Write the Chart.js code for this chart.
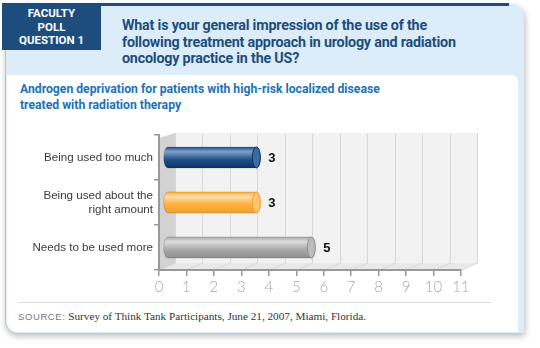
<!DOCTYPE html>
<html lang="en">
<head>
<meta charset="UTF-8">
<script src="https://cdn.jsdelivr.net/npm/chart.js"></script>
<title>Faculty Poll Question 1</title>
<style>
  body { margin: 0; width: 540px; height: 348px; background: #fff; position: relative; overflow: hidden; font-family: "Liberation Sans", Arial, sans-serif; }
  .card { position: absolute; left: 5px; top: 4px; width: 518px; height: 329px; background: #dcedf9; border-radius: 0 12px 0 12px; box-shadow: 1px 3px 6px rgba(0,0,0,0.28); border-left: 1px solid #b9c2c8; }
  .topline { position: absolute; left: 2px; top: 3px; width: 507px; height: 3px; background: #1d4d7c; }
  .tab { position: absolute; left: 2px; top: 3px; width: 99px; height: 47px; background: #1d4d7c; color: #fff; font-weight: bold; font-size: 11.5px; line-height: 13.5px; text-align: center; padding-top: 4px; box-sizing: border-box; font-family: "Roboto", sans-serif; }
  .title { position: absolute; left: 122px; top: 17px; color: #1d4d7c; font-weight: bold; font-size: 14.3px; letter-spacing: -0.2px; line-height: 16.5px; font-family: "Roboto", sans-serif; }
  .body { position: absolute; left: 7px; top: 75px; width: 511px; height: 257px; background: #fff; border-radius: 0 6px 0 10px; }
  .subtitle { position: absolute; left: 20px; top: 82px; color: #1b72b8; font-weight: bold; font-size: 12.2px; line-height: 15.5px; font-family: "Roboto", sans-serif; }
  .sep { position: absolute; left: 18px; top: 302px; width: 473px; height: 1px; background: #dedede; }
  .source { position: absolute; left: 18px; top: 310px; font-size: 11.2px; color: #333; font-family: "Liberation Serif", serif; white-space: nowrap; }
  .source b { font-family: "Liberation Sans", sans-serif; font-weight: normal; color: #777; font-size: 9.5px; letter-spacing: 0.6px; }
  canvas { position: absolute; left: 0; top: 0; }
</style>
</head>
<body>
  <div class="card"></div>
  <div class="topline"></div>
  <div class="tab">FACULTY<br>POLL<br>QUESTION 1</div>
  <div class="title">What is your general impression of the use of the<br>following treatment approach in urology and radiation<br>oncology practice in the US?</div>
  <div class="body"></div>
  <div class="subtitle">Androgen deprivation for patients with high-risk localized disease<br>treated with radiation therapy</div>
  <div class="sep"></div>
  <div class="source"><b>SOURCE:</b> Survey of Think Tank Participants, June 21, 2007, Miami, Florida.</div>
  <canvas id="poll" width="540" height="348"></canvas>

<script>
// chart data
var categories = [['Being used too much'], ['Being used about the', 'right amount'], ['Needs to be used more']];
var responses = [3, 3, 5];
var barColors = [
  { base: '#1f5089', light: '#7f9fca', dark: '#0a3466', cap: '#3c6aa3' },
  { base: '#fbb040', light: '#fedcaa', dark: '#f2a02c', cap: '#fcc46e' },
  { base: '#a9a9a9', light: '#dddddd', dark: '#8f8f8f', cap: '#bdbdbd' }
];
var xMin = 0, xMax = 11;

// 3D walls behind the bars
var walls = {
  id: 'walls',
  beforeDraw: function (chart) {
    var ctx = chart.ctx, a = chart.chartArea, xs = chart.scales.x;
    var dx = 16, dy = 7;
    ctx.save();
    // back wall
    ctx.fillStyle = '#f2f2f2';
    ctx.fillRect(a.left + dx, a.top - 2, a.right - a.left, a.bottom - dy - a.top + 2);
    // floor
    ctx.fillStyle = '#e9e9e9';
    ctx.beginPath();
    ctx.moveTo(a.left, a.bottom);
    ctx.lineTo(a.right, a.bottom);
    ctx.lineTo(a.right + dx, a.bottom - dy);
    ctx.lineTo(a.left + dx, a.bottom - dy);
    ctx.closePath();
    ctx.fill();
    // grid on wall and floor
    ctx.strokeStyle = '#d8d8d8';
    ctx.lineWidth = 1;
    for (var v = xMin; v <= xMax; v++) {
      var px = Math.round(xs.getPixelForValue(v)) + 0.5;
      ctx.beginPath();
      ctx.moveTo(px + dx, a.top - 2);
      ctx.lineTo(px + dx, a.bottom - dy);
      ctx.lineTo(px, a.bottom);
      ctx.stroke();
    }
    // left wall
    ctx.fillStyle = '#d3d3d3';
    ctx.beginPath();
    ctx.moveTo(a.left, a.top + 3);
    ctx.lineTo(a.left + dx, a.top - 2);
    ctx.lineTo(a.left + dx, a.bottom - dy);
    ctx.lineTo(a.left, a.bottom);
    ctx.closePath();
    ctx.fill();
    ctx.restore();
  }
};

// cylinder bars and value labels
var cylinders = {
  id: 'cylinders',
  afterDatasetsDraw: function (chart) {
    var ctx = chart.ctx;
    var meta = chart.getDatasetMeta(0);
    meta.data.forEach(function (el, i) {
      var c = barColors[i];
      var h = el.height, top = el.y - h / 2, bot = el.y + h / 2;
      var x0 = el.base + 4, x1 = el.x + 15, rx = 4;
      var g = ctx.createLinearGradient(0, top, 0, bot);
      g.addColorStop(0, c.base);
      g.addColorStop(0.22, c.light);
      g.addColorStop(0.6, c.base);
      g.addColorStop(1, c.dark);
      ctx.save();
      ctx.fillStyle = g;
      ctx.beginPath();
      ctx.moveTo(x0 + rx, top);
      ctx.lineTo(x1, top);
      ctx.ellipse(x1, el.y, rx, h / 2, 0, -Math.PI / 2, Math.PI / 2);
      ctx.lineTo(x0 + rx, bot);
      ctx.ellipse(x0 + rx, el.y, rx, h / 2, 0, Math.PI / 2, Math.PI * 1.5);
      ctx.closePath();
      ctx.fill();
      ctx.strokeStyle = 'rgba(0,0,0,0.15)';
      ctx.lineWidth = 1;
      ctx.stroke();
      // end cap
      ctx.fillStyle = c.cap;
      ctx.beginPath();
      ctx.ellipse(x1, el.y, rx, h / 2, 0, 0, Math.PI * 2);
      ctx.fill();
      ctx.strokeStyle = c.dark;
      ctx.stroke();
      // value
      ctx.fillStyle = '#111';
      ctx.font = 'bold 13px "Liberation Sans", Arial, sans-serif';
      ctx.textAlign = 'left';
      ctx.textBaseline = 'middle';
      ctx.fillText(String(responses[i]), x1 + rx + 8, el.y + 1);
      ctx.restore();
    });
  }
};

var chartData = {
  labels: categories,
  datasets: [{
    data: responses,
    backgroundColor: 'rgba(0,0,0,0)',
    borderWidth: 0,
    barThickness: 21
  }]
};

var context = document.getElementById('poll').getContext('2d');
var pollChart = new Chart(context, {
  type: 'bar',
  data: chartData,
  plugins: [walls, cylinders],
  options: {
    indexAxis: 'y',
    responsive: false,
    animation: false,
    devicePixelRatio: 1,
    layout: { padding: { left: 0, top: 135, right: 79, bottom: 48 } },
    plugins: { legend: { display: false }, tooltip: { enabled: false } },
    scales: {
      x: {
        min: xMin,
        max: xMax,
        afterFit: function (scale) { scale.height = 30; },
        ticks: { stepSize: 1, color: '#a8a8a8', padding: 2, font: { family: 'Lato', weight: 300, size: 15 } },
        grid: { drawOnChartArea: false, drawTicks: true, tickLength: 6, color: '#999', lineWidth: 1.5 },
        border: { color: '#999', width: 2 }
      },
      y: {
        afterFit: function (scale) { scale.width = 159; },
        ticks: { color: '#3a3a3a', padding: 1, font: { family: 'Liberation Sans', size: 11.6 } },
        grid: { drawOnChartArea: false, drawTicks: true, tickLength: 5, color: '#999', lineWidth: 1.5 },
        border: { color: '#999', width: 2 }
      }
    }
  }
});
</script>
</body>
</html>
